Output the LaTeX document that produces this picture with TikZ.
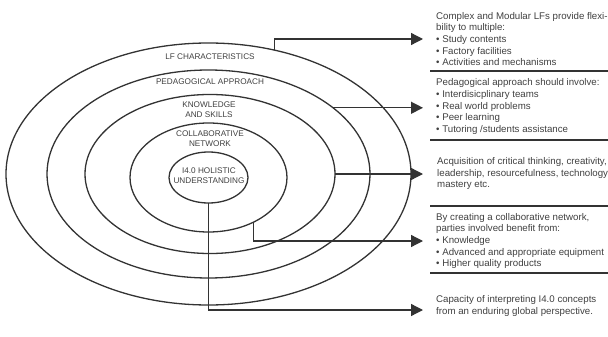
\documentclass[tikz,border=0pt]{standalone}
\usepackage{fontspec}
\setmainfont{Liberation Sans}
\usetikzlibrary{shapes.geometric, arrows.meta}

\begin{document}
\begin{tikzpicture}[x=1pt, y=-1pt,
  ring/.style = {draw=black!80, line width=1.3pt, ellipse, inner sep=0pt, outer sep=0pt},
  ringlabel/.style = {text=black!75, font=\fontsize{8.2}{10}\selectfont, align=center, inner sep=0pt},
  info/.style = {text=black!75, font=\fontsize{9.7}{11.6}\selectfont, align=left, anchor=west, inner sep=0pt},
  link/.style = {draw=black!80, line width=1.3pt, -{Triangle[length=12pt,width=12pt]}, shorten >=12pt},
  rule/.style = {draw=black!80, line width=1.3pt}]
\useasboundingbox (0,0) rectangle (608,337);
% rings
\node[ring, minimum width=405pt, minimum height=262pt] (lf) at (208.5,174) {};
\node[ring, minimum width=323pt, minimum height=208pt] (pa) at (208.5,174) {};
\node[ring, minimum width=250pt, minimum height=159pt] (ks) at (210,174) {};
\node[ring, minimum width=157pt, minimum height=109pt] (cn) at (208.5,177.5) {};
\node[ring, minimum width=79pt, minimum height=51pt] (hu) at (208.5,177.5) {};
\node[ringlabel] (lflabel) at (210,57) {LF CHARACTERISTICS};
\node[ringlabel] (palabel) at (210,82) {PEDAGOGICAL APPROACH};
\node[ringlabel] (kslabel) at (209,110) {KNOWLEDGE\\AND SKILLS};
\node[ringlabel] (cnlabel) at (210,139) {COLLABORATIVE\\NETWORK};
\node[ringlabel] (hulabel) at (209,176) {I4.0 HOLISTIC\\UNDERSTANDING};
% right column
\node[info] (t1) at (436,39) {Complex and Modular LFs provide flexi-\\bility to multiple:\\\textbullet\ Study contents\\\textbullet\ Factory facilities\\\textbullet\ Activities and mechanisms};
\node[info] (t2) at (436,106.5) {Pedagogical approach should involve:\\\textbullet\ Interdisicplinary teams\\\textbullet\ Real world problems\\\textbullet\ Peer learning\\\textbullet\ Tutoring /students assistance};
\node[info] (t3) at (437,173.5) {Acquisition of critical thinking, creativity,\\leadership, resourcefulness, technology\\mastery etc.};
\node[info] (t4) at (436,241) {By creating a collaborative network,\\parties involved benefit from:\\\textbullet\ Knowledge\\\textbullet\ Advanced and appropriate equipment\\\textbullet\ Higher quality products};
\node[info] (t5) at (436,306) {Capacity of interpreting I4.0 concepts\\from an enduring global perspective.};
\foreach \y in {71,140,206,273}
  \draw[rule] (430,\y) -- (608,\y);
% links
\draw[link] (lf.62.6) |- ([xshift=-1pt]t1.west);
\draw[link] (pa.28) -- ([xshift=-1pt]pa.28 -| t2.west);
\draw[link] (ks.east) -- ([xshift=-2pt]ks.east -| t3.west);
\draw[link] (cn.-45) |- ([xshift=-1pt]t4.west);
\draw[link] (hu.south) |- ([xshift=-1pt,yshift=-4pt]t5.west);
\end{tikzpicture}
\end{document}
